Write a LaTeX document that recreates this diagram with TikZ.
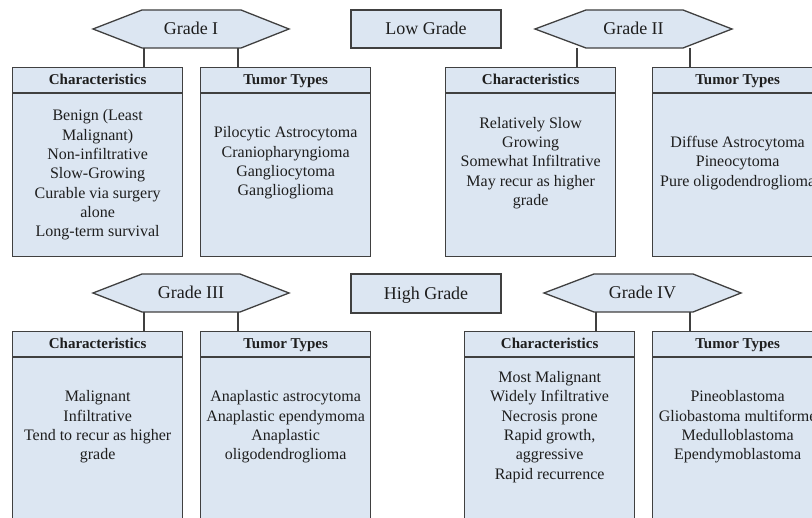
\documentclass[tikz,border=0pt]{standalone}
\usepackage{fontspec}
\setmainfont{Liberation Serif}
\definecolor{boxfill}{HTML}{DCE6F2}
\definecolor{edge}{HTML}{404040}
\definecolor{ink}{HTML}{1E1E1E}

\tikzset{
  shapeline/.style={draw=edge, line width=1.3pt, fill=boxfill},
  link/.style={draw=edge, line width=1.3pt},
  gradelbl/.style={font=\fontsize{18}{21}\selectfont, text=ink, inner sep=0pt,
                   text height=12pt, text depth=0pt},
  headlbl/.style={font=\fontsize{15}{18}\selectfont\bfseries, text=ink, inner sep=0pt,
                  text height=10pt, text depth=0pt},
  bodylbl/.style={font=\fontsize{16}{19.3}\selectfont, text=ink, align=center, inner sep=0pt},
  panel/.style={shapeline, rectangle, inner sep=0pt, anchor=north west, minimum width=170pt},
  levelbox/.style={shapeline, rectangle, inner sep=0pt, minimum width=150pt, minimum height=38pt,
                   font=\fontsize{18}{21}\selectfont, text=ink, text height=12pt, text depth=0pt},
}

% panel: name, left x, top y, height, header, body, body centre y
\newcommand\infopanel[7]{%
  \node[panel, minimum height=#4pt] (#1) at (#2,#3) {};
  \draw[link] ([yshift=-26pt]#1.north west) -- ([yshift=-26pt]#1.north east);
  \node[headlbl] (#1-head) at ([yshift=-13pt]#1.north) {#5};
  \node[bodylbl] (#1-body) at (#1.north |- 0,#7) {#6};
}

% hexagon: name, left tip, flat left, flat right, right tip, top y, bottom y, label
\newcommand\gradehex[8]{%
  \path[shapeline] (#2,{(#6+#7)/2}) -- (#3,#6) -- (#4,#6) -- (#5,{(#6+#7)/2})
        -- (#4,#7) -- (#3,#7) -- cycle;
  \node[gradelbl] (#1) at ({(#2+#5)/2},{(#6+#7)/2}) {#8};
}

\begin{document}
\begin{tikzpicture}[x=1pt, y=-1pt]
\useasboundingbox (0,0) rectangle (812,518);
\clip (0,0) rectangle (812,518);
\fill[white] (0,0) rectangle (812,518);

% ---------- low grade ----------
\gradehex{g1}{93}{142}{241}{289}{10}{48}{Grade I}
\gradehex{g2}{535}{586}{683}{732}{10}{48}{Grade II}
\node[levelbox] (low) at (426,29) {Low Grade};

\infopanel{c1}{12}{67}{189}{Characteristics}
  {Benign (Least\\Malignant)\\Non-infiltrative\\Slow-Growing\\Curable via surgery\\alone\\Long-term survival}{175}
\infopanel{t1}{200}{67}{189}{Tumor Types}
  {Pilocytic Astrocytoma\\Craniopharyngioma\\Gangliocytoma\\Ganglioglioma}{163}
\infopanel{c2}{445}{67}{189}{Characteristics}
  {Relatively Slow\\Growing\\Somewhat Infiltrative\\May recur as higher\\grade}{163}
\infopanel{t2}{652}{67}{189}{Tumor Types}
  {Diffuse Astrocytoma\\Pineocytoma\\Pure oligodendroglioma}{163}

\coordinate (g1a) at (144,48);
\coordinate (g1b) at (238,48);
\coordinate (g2a) at (577,48);
\coordinate (g2b) at (690,48);
\draw[link] (g1a) -- (g1a |- c1.north);
\draw[link] (g1b) -- (g1b |- t1.north);
\draw[link] (g2a) -- (g2a |- c2.north);
\draw[link] (g2b) -- (g2b |- t2.north);

% ---------- high grade ----------
\gradehex{g3}{93}{142}{240}{289}{274}{312}{Grade III}
\gradehex{g4}{544}{594}{693}{741}{274}{312}{Grade IV}
\node[levelbox, minimum height=39pt] (high) at (426,293.5) {High Grade};

\infopanel{c3}{12}{331}{200}{Characteristics}
  {Malignant\\Infiltrative\\Tend to recur as higher\\grade}{427}
\infopanel{t3}{200}{331}{200}{Tumor Types}
  {Anaplastic astrocytoma\\Anaplastic ependymoma\\Anaplastic\\oligodendroglioma}{427}
\infopanel{c4}{464}{331}{200}{Characteristics}
  {Most Malignant\\Widely Infiltrative\\Necrosis prone\\Rapid growth,\\aggressive\\Rapid recurrence}{427}
\infopanel{t4}{652}{331}{200}{Tumor Types}
  {Pineoblastoma\\Gliobastoma multiforme\\Medulloblastoma\\Ependymoblastoma}{427}

\coordinate (g3a) at (144,312);
\coordinate (g3b) at (238,312);
\coordinate (g4a) at (596,312);
\coordinate (g4b) at (690,312);
\draw[link] (g3a) -- (g3a |- c3.north);
\draw[link] (g3b) -- (g3b |- t3.north);
\draw[link] (g4a) -- (g4a |- c4.north);
\draw[link] (g4b) -- (g4b |- t4.north);
\end{tikzpicture}
\end{document}
